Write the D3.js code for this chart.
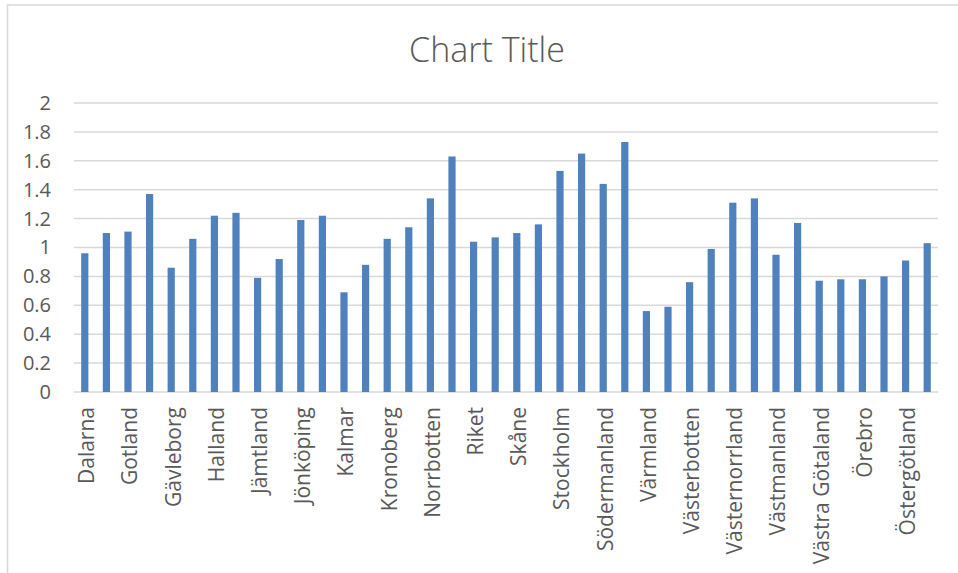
<!DOCTYPE html>
<html>
<head>
<meta charset="utf-8">
<script src="https://cdn.jsdelivr.net/npm/d3@7"></script>
<style>
  body { margin: 0; background: #fff; }
  svg { display: block; }
  text { font-family: "Open Sans", sans-serif; fill: #595959; }
</style>
</head>
<body>
<div id="chart"></div>
<script>

var width = 958;
var height = 573;

// every region has two bars, only the first of each pair gets a label
var regions = ["Dalarna", "Gotland", "Gävleborg", "Halland", "Jämtland", "Jönköping",
  "Kalmar", "Kronoberg", "Norrbotten", "Riket", "Skåne", "Stockholm", "Södermanland",
  "Värmland", "Västerbotten", "Västernorrland", "Västmanland", "Västra Götaland",
  "Örebro", "Östergötland"];

var values = [0.96, 1.10, 1.11, 1.37, 0.86, 1.06, 1.22, 1.24, 0.79, 0.92,
  1.19, 1.22, 0.69, 0.88, 1.06, 1.14, 1.34, 1.63, 1.04, 1.07,
  1.10, 1.16, 1.53, 1.65, 1.44, 1.73, 0.56, 0.59, 0.76, 0.99,
  1.31, 1.34, 0.95, 1.17, 0.77, 0.78, 0.78, 0.80, 0.91, 1.03];

var yTicks = [0, 0.2, 0.4, 0.6, 0.8, 1, 1.2, 1.4, 1.6, 1.8, 2];

var data = values.map(function(v, i) {
  return { idx: i, region: regions[Math.floor(i / 2)], value: v };
});

var margin = { l: 74, r: 20, t: 103, b: 181 };

var svg = d3.select("#chart").append("svg")
  .attr("width", width)
  .attr("height", height);

// chart area frame
svg.append("rect")
  .attr("x", 7.5).attr("y", 5)
  .attr("width", width + 10).attr("height", height + 10)
  .attr("fill", "none")
  .attr("stroke", "#d9d9d9")
  .attr("stroke-width", 1.5);

var xScale = d3.scaleBand()
  .domain(d3.range(values.length))
  .range([margin.l, width - margin.r])
  .paddingInner(0.667)
  .paddingOuter(0.333);

var yScale = d3.scaleLinear().domain([0, 2]).range([height - margin.b, margin.t]);

// gridlines
svg.append("g")
  .selectAll("line")
  .data(yTicks)
  .enter()
  .append("line")
  .attr("x1", margin.l)
  .attr("x2", width - margin.r)
  .attr("y1", function(d) { return yScale(d); })
  .attr("y2", function(d) { return yScale(d); })
  .attr("stroke", "#d9d9d9")
  .attr("stroke-width", 1.5);

// y labels
var yAxis = d3.axisLeft(yScale).tickValues(yTicks).tickSize(0).tickPadding(0)
  .tickFormat(function(d) { return String(d); });
var gy = svg.append("g")
  .attr("transform", "translate(51,0)")
  .call(yAxis);
gy.select(".domain").remove();
gy.selectAll("text")
  .style("font-size", "20px")
  .attr("fill", "#595959");

// bars
svg.append("g")
  .selectAll("rect")
  .data(data)
  .enter()
  .append("rect")
  .attr("x", function(d) { return xScale(d.idx); })
  .attr("width", xScale.bandwidth())
  .attr("y", function(d) { return yScale(d.value); })
  .attr("height", function(d) { return yScale(0) - yScale(d.value); })
  .attr("fill", "#4f81bd");

// x labels
var xAxis = d3.axisBottom(xScale).tickSize(0).tickPadding(0)
  .tickValues(d3.range(0, values.length, 2))
  .tickFormat(function(i) { return regions[i / 2]; });
var gx = svg.append("g")
  .attr("transform", "translate(2," + (yScale(0) + 15) + ")")
  .call(xAxis);
gx.select(".domain").remove();
gx.selectAll("text")
  .style("font-size", "21px")
  .attr("fill", "#595959")
  .attr("transform", "rotate(-90)")
  .attr("x", 0)
  .attr("y", 0)
  .attr("dy", "0.35em")
  .style("text-anchor", "end");

// title
svg.append("text")
  .attr("x", 487)
  .attr("y", 62)
  .style("text-anchor", "middle")
  .style("font-size", "34px")
  .style("font-weight", "300")
  .text("Chart Title");

</script>
</body>
</html>
